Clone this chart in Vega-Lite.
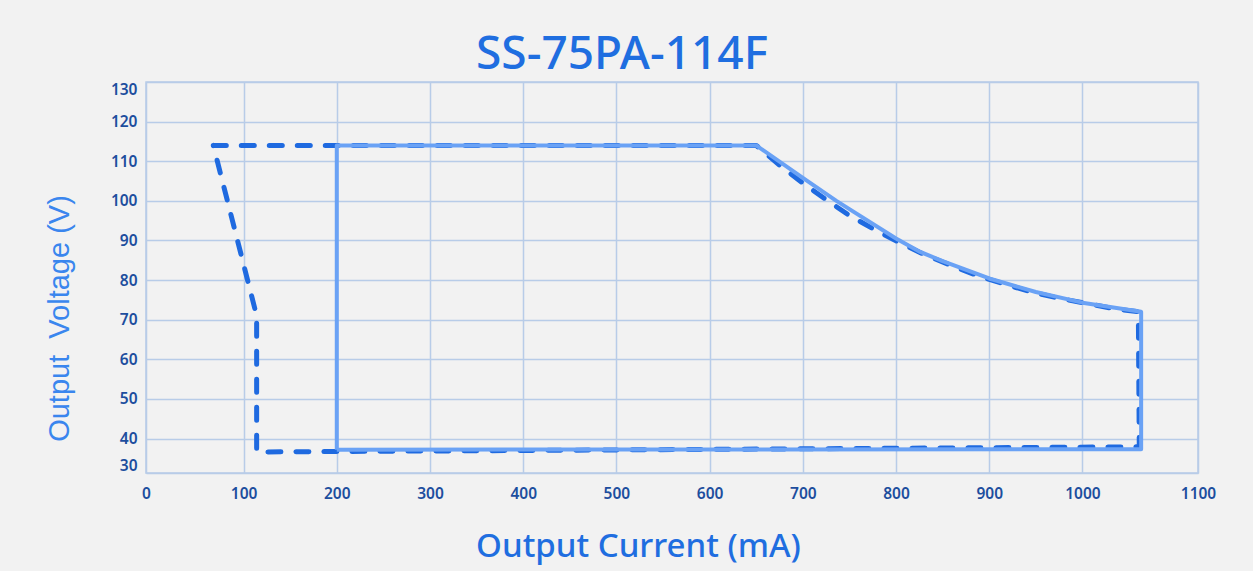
{
  "$schema": "https://vega.github.io/schema/vega-lite/v6.json",
  "autosize": "none",
  "width": 1052,
  "height": 391,
  "padding": {"left": 146, "top": 82, "right": 55, "bottom": 98},
  "background": "#f2f2f2",
  "title": {
    "text": "SS-75PA-114F",
    "font": "Noto Sans",
    "fontSize": 46,
    "fontWeight": 500,
    "color": "#1f6ee0",
    "anchor": "middle",
    "dx": -50,
    "dy": 51,
    "baseline": "alphabetic",
    "offset": 18
  },
  "config": {
    "view": {"stroke": "#b8cce8", "strokeWidth": 1.5, "fill": "#f2f2f2"},
    "axis": {
      "grid": true,
      "gridColor": "#b8cce8",
      "gridWidth": 1.5,
      "gridOpacity": 1,
      "domain": false,
      "ticks": false,
      "labelFont": "Noto Sans",
      "labelFontSize": 15.5,
      "labelFontWeight": 600,
      "labelColor": "#1d4e9e"
    }
  },
  "datasets": {
    "dashed": [
      {"order": 1, "current": 67.5, "voltage": 114},
      {"order": 2, "current": 650, "voltage": 114},
      {"order": 3, "current": 675, "voltage": 109},
      {"order": 4, "current": 700, "voltage": 104.5},
      {"order": 5, "current": 725, "voltage": 100.3},
      {"order": 6, "current": 750, "voltage": 96.3},
      {"order": 7, "current": 775, "voltage": 93.0},
      {"order": 8, "current": 800, "voltage": 89.9},
      {"order": 9, "current": 830, "voltage": 86.5},
      {"order": 10, "current": 860, "voltage": 83.6},
      {"order": 11, "current": 890, "voltage": 80.9},
      {"order": 12, "current": 915, "voltage": 79.1},
      {"order": 13, "current": 945, "voltage": 77.0},
      {"order": 14, "current": 975, "voltage": 75.4},
      {"order": 15, "current": 1005, "voltage": 74.1},
      {"order": 16, "current": 1035, "voltage": 72.7},
      {"order": 17, "current": 1060, "voltage": 72.0},
      {"order": 18, "current": 1061, "voltage": 37.9},
      {"order": 19, "current": 114, "voltage": 36.6},
      {"order": 20, "current": 114, "voltage": 71},
      {"order": 21, "current": 67.5, "voltage": 114}
    ],
    "solid": [
      {"order": 1, "current": 200, "voltage": 37.2},
      {"order": 2, "current": 200, "voltage": 114},
      {"order": 3, "current": 650, "voltage": 114},
      {"order": 4, "current": 700, "voltage": 105.8},
      {"order": 5, "current": 736, "voltage": 100},
      {"order": 6, "current": 750, "voltage": 97.9},
      {"order": 7, "current": 800, "voltage": 90.5},
      {"order": 8, "current": 826, "voltage": 87.1},
      {"order": 9, "current": 850, "voltage": 84.8},
      {"order": 10, "current": 900, "voltage": 80.4},
      {"order": 11, "current": 950, "voltage": 77.0},
      {"order": 12, "current": 1000, "voltage": 74.3},
      {"order": 13, "current": 1063, "voltage": 72.0},
      {"order": 14, "current": 1063, "voltage": 37.3},
      {"order": 15, "current": 200, "voltage": 37.2}
    ]
  },
  "encoding": {
    "x": {
      "field": "current",
      "type": "quantitative",
      "scale": {"domain": [-4.7, 1124], "nice": false, "zero": false},
      "axis": {
        "values": [-4.7, 100, 200, 300, 400, 500, 600, 700, 800, 900, 1000, 1124],
        "format": "d",
        "labelExpr": "datum.value < 50 ? '0' : datum.value > 1050 ? '1100' : datum.label",
        "labelFlush": false,
        "labelPadding": 13,
        "labelBaseline": "top",
        "title": "Output Current (mA)",
        "titleFont": "Noto Sans",
        "titleFontSize": 33,
        "titleFontWeight": 500,
        "titleColor": "#1f6ee0",
        "titleX": 492,
        "titleY": 83,
        "titleAlign": "center",
        "titleAnchor": null,
        "titleBaseline": "alphabetic"
      }
    },
    "y": {
      "field": "voltage",
      "type": "quantitative",
      "scale": {"domain": [31.3, 130], "nice": false, "zero": false},
      "axis": {
        "values": [31.3, 40, 50, 60, 70, 80, 90, 100, 110, 120, 130],
        "format": "d",
        "labelExpr": "datum.value < 35 ? '30' : datum.label",
        "labelFlush": true,
        "labelPadding": 9,
        "title": "Output\u00a0 Voltage (V)",
        "titleFont": "Liberation Sans",
        "titleFontSize": 29,
        "titleFontWeight": "normal",
        "titleColor": "#3a86ee",
        "titleAngle": -90,
        "titleX": -78,
        "titleY": 236,
        "titleAlign": "center",
        "titleBaseline": "alphabetic"
      }
    },
    "order": {"field": "order", "type": "quantitative"}
  },
  "layer": [
    {
      "data": {"name": "dashed"},
      "mark": {"type": "line", "color": "#1f6ae0", "strokeWidth": 5, "strokeDash": [13, 15], "strokeCap": "round", "strokeJoin": "round"}
    },
    {
      "data": {"name": "solid"},
      "mark": {"type": "line", "color": "#6aa2f5", "strokeWidth": 4, "strokeJoin": "round"}
    }
  ]
}
